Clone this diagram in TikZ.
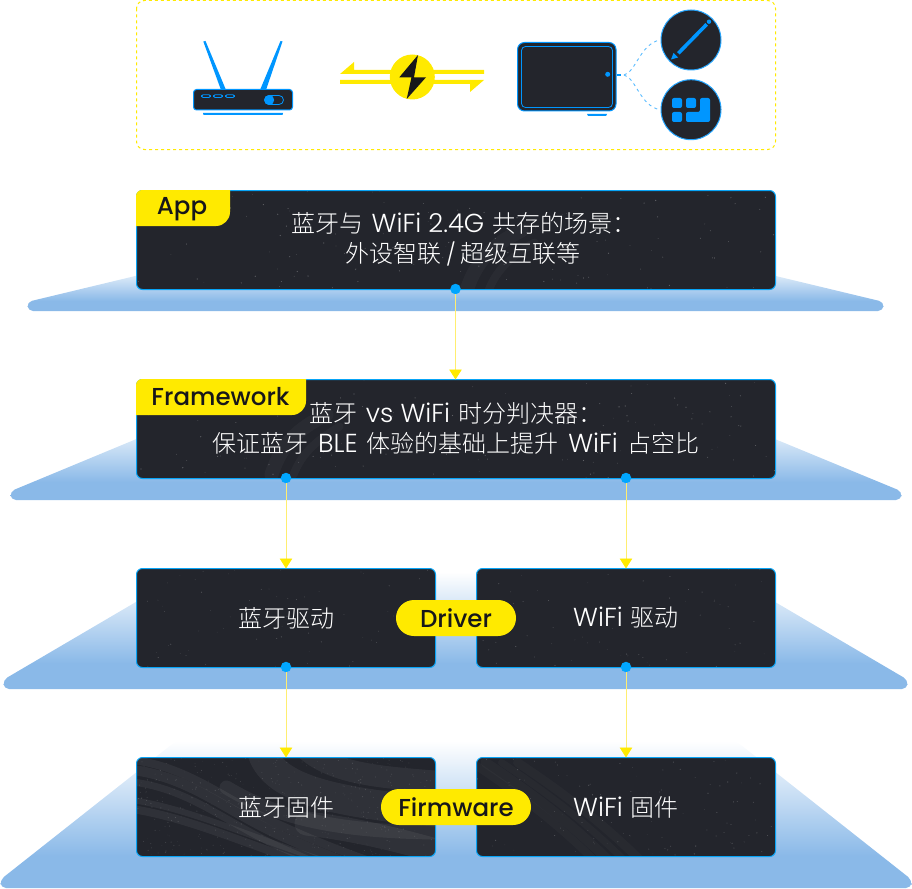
\documentclass[tikz,border=0pt]{standalone}
\usepackage{fontspec}
\usetikzlibrary{arrows.meta}
\setmainfont{Poppins}
\newfontfamily\cjf{Noto Sans CJK SC}[UprightFont={* Light}]
\newfontfamily\latf{Poppins}[UprightFont={* Light}]
\newfontfamily\tagf{Poppins}[UprightFont={* Medium}]
\newcommand{\cj}[1]{{\cjf #1}}
\newcommand{\la}[1]{{\latf\fontsize{26}{30}\selectfont #1}}
\newcommand{\gp}{\hspace{8pt}}
\newcommand{\gq}{\hspace{9.3pt}}
\definecolor{yel}{HTML}{FFEA00}
\definecolor{blu}{HTML}{0096FF}
\definecolor{edg}{HTML}{08A4F6}
\definecolor{drk}{HTML}{23252C}
\definecolor{tra}{HTML}{8AB9E8}
\definecolor{ink}{HTML}{17171A}
\definecolor{lnk}{HTML}{FFEE70}
\pgfdeclareverticalshading{trayfade}{100bp}{color(0bp)=(tra); color(36bp)=(tra); color(75bp)=(white); color(100bp)=(white)}
% grain: #1 = count, #2 = width of the box, #3 = opacity
\newcommand{\specks}[3]{%
  \foreach \i in {1,...,#1}{%
    \pgfmathsetmacro{\xx}{rnd*#2}
    \pgfmathsetmacro{\yy}{rnd*99}
    \pgfmathsetmacro{\rr}{0.25+rnd*0.4}
    \fill[white,opacity=#3] (\xx,\yy) circle[radius=\rr];
  }}
% texture inside a box: #1 left, #2 top, #3 width, #4 drawing in local coordinates
\newcommand{\texbox}[4]{%
  \begin{scope}
    \clip[rounded corners=5.5pt] ({#1+0.5},{#2+0.5}) rectangle ({#1+#3-0.5},{#2+98.5});
    \begin{scope}[shift={(#1,#2)}]#4\end{scope}
  \end{scope}}
\newcommand{\swirlA}{%
  \begin{scope}[white,line cap=round,opacity=0.06]
    \foreach \d/\w in {0/8,10/10,22/7}
      \draw[line width=\w] (-8,{2+\d}) .. controls (50,{8+\d}) and (85,{40+\d}) .. (140,{66+\d}) .. controls (180,{84+\d}) and (200,{92+\d}) .. (240,{106+\d});
    \foreach \d/\w in {0/6,9/8}
      \draw[line width=\w] (-8,{42+\d}) .. controls (50,{50+\d}) and (110,{78+\d}) .. (190,{104+\d});
    \draw[line width=30] (125,-8) .. controls (135,30) and (190,45) .. (310,55);
    \draw[line width=22] (170,-8) .. controls (200,18) and (250,20) .. (310,25);
    \draw[line width=24] (170,66) .. controls (220,72) and (260,82) .. (310,96);
    \draw[line width=14] (90,30) .. controls (140,60) and (200,75) .. (310,75);
  \end{scope}}
\newcommand{\swirlB}{%
  \begin{scope}[white,line cap=round,opacity=0.025]
    \foreach \d/\w in {0/8,14/10,30/7,46/9}
      \draw[line width=\w] ({-5+\d},5) .. controls ({40+\d},35) and ({80+\d},65) .. ({120+\d},105);
  \end{scope}}
\newcommand{\streak}{%
  \begin{scope}[white,line cap=round,opacity=0.03]
    \draw[line width=14] (330,100) .. controls (340,70) and (355,55) .. (385,40);
    \draw[line width=8] (352,100) .. controls (360,80) and (372,68) .. (398,52);
  \end{scope}}
\tikzset{
  x=1pt,y=-1pt,
  layer/.style={draw=edg,line width=1pt,fill=drk,rounded corners=6pt,inner sep=0pt,outer sep=0pt,
    anchor=north west,minimum height=99pt},
  wide/.style={layer,minimum width=639pt},
  half/.style={layer,minimum width=299pt},
  tagtext/.style={text=ink,font=\tagf\fontsize{24.5}{28}\selectfont,inner sep=0pt},
  bodytext/.style={text=white,align=center,inner sep=0pt,font=\fontsize{24}{30}\selectfont},
  dotn/.style={circle,fill=blu!85!cyan,draw=none,minimum size=10.5pt,inner sep=0pt},
  link/.style={draw=lnk,line width=0.9pt,-{Triangle[length=10pt,width=12.5pt,color=yel]}},
  tray/.style={shading=trayfade,draw=none,rounded corners=5pt},
}
\begin{document}
\begin{tikzpicture}
\useasboundingbox (0,0) rectangle (912,888);
\pgfmathsetseed{4711}
% top panel
\draw[yel,line width=1pt,dash pattern=on 3pt off 3pt,rounded corners=8pt] (136.5,0.5) rectangle (775.5,149.5);
% router
\fill[blu] (203.3,41.5) -- (205.5,41) -- (226,90) -- (221,90) -- cycle;
\fill[blu] (282.5,41.5) -- (280.5,41) -- (260,90) -- (266,90) -- cycle;
\draw[blu,fill=drk,line width=1pt,rounded corners=3pt] (193.5,89.5) rectangle (292.5,110);
\foreach \xa/\xb in {201.5/210.5,213.5/222.5,225.5/234.5}
  \draw[blu,line width=0.8pt,rounded corners=1.5pt] (\xa,94.7) rectangle (\xb,97.5);
\draw[blu,line width=0.8pt,rounded corners=4.5pt] (264.5,95.5) rectangle (283.5,104.5);
\fill[blu] (269.2,100) circle[radius=5];
\fill[blu] (203,113) -- (283,113) -- (282.5,115) -- (203.5,115) -- cycle;
% exchange arrows
\fill[yel] (340,74) -- (354,62) -- (354,70) -- (484,70) -- (484,74) -- cycle;
\fill[yel] (340,80) -- (484,80) -- (470,92) -- (470,84) -- (340,84) -- cycle;
\fill[yel] (412.3,77) circle[radius=22.5];
\fill[ink] (418,55) -- (399.3,77.3) -- (411.5,77.3) -- (406.7,99) -- (426,77.3) -- (414,77.3) -- cycle;
% tablet
\draw[blu,fill=drk,line width=1pt,rounded corners=7pt] (517.5,42.5) rectangle (616,111);
\draw[blu,line width=0.8pt,rounded corners=4pt] (521.5,46.5) rectangle (612.5,107.5);
\fill[blu] (607.7,74.3) circle[radius=2.5];
\fill[blu] (587,114) -- (607,114) -- (606,116) -- (588,116) -- cycle;
\draw[blu,line width=1.1pt] (617,75) -- (621,75);
\draw[blu!65,line width=0.9pt,dash pattern=on 3pt off 3.5pt] (624,75) .. controls (636,72) and (640,44) .. (660,40);
\draw[blu!65,line width=0.9pt,dash pattern=on 3pt off 3.5pt] (624,75) .. controls (636,78) and (640,106) .. (660,109.7);
% round badges
\draw[blu!85,fill=drk,line width=1pt] (691,40) circle[radius=30];
\draw[blu!85,fill=drk,line width=1pt] (691,109.7) circle[radius=30];
\draw[blu,line width=3.6pt] (706.7,24.3) -- (678.3,53.3);
\fill[blu] (709,21.7) circle[radius=2.2];
\fill[blu] (671,59.5) -- (673.5,53) -- (678,57.5) -- cycle;
\foreach \xa/\ya in {672/98,686/98,672/112}
  \fill[blu,rounded corners=2pt] (\xa,\ya) rectangle ({\xa+10},{\ya+10});
\fill[blu,rounded corners=2pt] (700,98) -- (710,98) -- (710,122) -- (686,122) -- (686,112) -- (700,112) -- cycle;
% trays
\shade[tray] (28,311) -- (27,302) -- (181,265) -- (730,265) -- (884,302) -- (883,311) -- cycle;
\shade[tray] (11,500) -- (10,491.5) -- (187,418) -- (724,418) -- (902,491.5) -- (901,500) -- cycle;
\shade[tray] (4,689) -- (3,680) -- (187,572) -- (724,572) -- (908,680) -- (907,689) -- cycle;
\shade[tray] (1,888) -- (0,880) -- (176,741) -- (736,741) -- (912,880) -- (911,888) -- cycle;
% layer boxes
\node[wide] (app) at (136.5,190.5) {};
\node[wide] (fw) at (136.5,379.5) {};
\node[half] (bd) at (136.5,568.5) {};
\node[half] (wd) at (476.5,568.5) {};
\node[half] (bf) at (136.5,757.5) {};
\node[half] (wf) at (476.5,757.5) {};
% textures
\texbox{136.5}{190.5}{639}{\streak\specks{130}{639}{0.28}}
\texbox{136.5}{379.5}{639}{\begin{scope}[shift={(-195,-5)}]\streak\end{scope}\specks{130}{639}{0.28}}
\texbox{136.5}{568.5}{299}{\specks{70}{299}{0.2}}
\texbox{476.5}{568.5}{299}{\specks{70}{299}{0.22}}
\texbox{136.5}{757.5}{299}{\swirlA\specks{420}{299}{0.14}}
\texbox{476.5}{757.5}{299}{\swirlB\specks{120}{299}{0.22}}
% texts
\node[bodytext] (bdt) at (bd) {\cj{蓝牙驱动}};
\node[bodytext] (wdt) at (wd) {\la{WiFi}\gp\cj{驱动}};
\node[bodytext] (bft) at (bf) {\cj{蓝牙固件}};
\node[bodytext] (wft) at (wf) {\la{WiFi}\gp\cj{固件}};
\node[bodytext] (apptxt) at (456,239.5) {\hspace*{16pt}\cj{蓝牙与}\gp\la{WiFi 2.4G}\gp\cj{共存的场景：}\\[0pt]\hspace*{14pt}\cj{外设智联}\hspace{5pt}{\latf\fontsize{22}{30}\selectfont /}\hspace{5pt}\cj{超级互联等}};
\node[bodytext] (fwtxt) at (456,428.5) {\cj{蓝牙}\gp\la{vs WiFi}\gp\cj{时分判决器：}\\[0pt]\cj{保证蓝牙}\gq\la{BLE}\gq\cj{体验的基础上提升}\gq\la{WiFi}\gq\cj{占空比}};
% tags
\fill[yel] (136,226) -- (136,196) .. controls (136,192.7) and (138.7,190) .. (142,190) -- (230,190) -- (230,212) .. controls (230,219.7) and (223.7,226) .. (216,226) -- cycle;
\node[tagtext,anchor=base] (apptag) at (182,214.5) {App};
\fill[yel] (136,415) -- (136,385) .. controls (136,381.7) and (138.7,379) .. (142,379) -- (306,379) -- (306,401) .. controls (306,408.7) and (299.7,415) .. (292,415) -- cycle;
\node[tagtext] (fwtag) at (220.5,397) {Framework};
\node[tagtext,fill=yel,rounded corners=17.9pt,minimum width=120pt,minimum height=36pt] (drv) at (456,618) {Driver};
\node[tagtext,fill=yel,rounded corners=17.9pt,minimum width=150pt,minimum height=36pt] (frm) at (456,807) {Firmware};
% connector dots
\node[dotn] (d1) at (455.5,289) {};
\node[dotn] (d2) at (286,478) {};
\node[dotn] (d3) at (626,478) {};
\node[dotn] (d4) at (286,667) {};
\node[dotn] (d5) at (626,667) {};
% connectors
\draw[link] (d1) -- (d1 |- fw.north);
\draw[link] (d2) -- (d2 |- bd.north);
\draw[link] (d3) -- (d3 |- wd.north);
\draw[link] (d4) -- (d4 |- bf.north);
\draw[link] (d5) -- (d5 |- wf.north);
\end{tikzpicture}
\end{document}
